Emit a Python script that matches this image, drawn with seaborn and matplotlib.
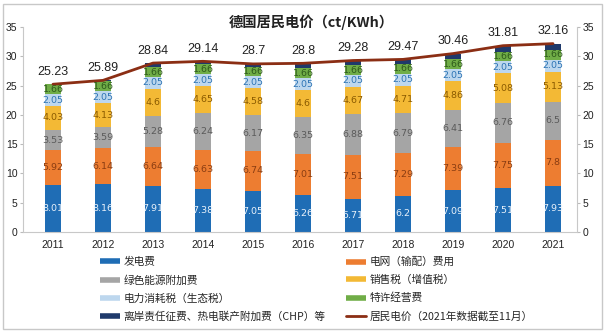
import numpy as np
import pandas as pd
import matplotlib
matplotlib.use("Agg")
import matplotlib.pyplot as plt
from matplotlib.lines import Line2D
from matplotlib.patches import Rectangle
import seaborn as sns

sns.set_theme(style="white")
plt.rcParams['font.family'] = ['Noto Sans CJK SC', 'DejaVu Sans']

years = ["2011", "2012", "2013", "2014", "2015", "2016", "2017", "2018", "2019", "2020", "2021"]
generation = [8.01, 8.16, 7.91, 7.38, 7.05, 6.26, 5.71, 6.2, 7.09, 7.51, 7.93]
grid_fee = [5.92, 6.14, 6.64, 6.63, 6.74, 7.01, 7.51, 7.29, 7.39, 7.75, 7.8]
green_levy = [3.53, 3.59, 5.28, 6.24, 6.17, 6.35, 6.88, 6.79, 6.41, 6.76, 6.5]
sales_tax = [4.03, 4.13, 4.6, 4.65, 4.58, 4.6, 4.67, 4.71, 4.86, 5.08, 5.13]
eco_tax = [2.05, 2.05, 2.05, 2.05, 2.05, 2.05, 2.05, 2.05, 2.05, 2.05, 2.05]
concession = [1.66, 1.66, 1.66, 1.66, 1.66, 1.66, 1.66, 1.66, 1.66, 1.66, 1.66]
other_levies = [0.03, 0.16, 0.70, 0.53, 0.45, 0.87, 0.80, 0.77, 1.00, 1.00, 1.09]
total_price = [25.23, 25.89, 28.84, 29.14, 28.7, 28.8, 29.28, 29.47, 30.46, 31.81, 32.16]

series_names = ["发电费", "电网（输配）费用", "绿色能源附加费", "销售税（增值税）",
                "电力消耗税（生态税）", "特许经营费", "离岸责任征费、热电联产附加费（CHP）等"]
line_name = "居民电价（2021年数据截至11月）"
title = "德国居民电价（ct/KWh）"

series = [generation, grid_fee, green_levy, sales_tax, eco_tax, concession, other_levies]
colors = ["#1F6DB5", "#ED7D31", "#A5A5A5", "#F3B935", "#BDD7EE", "#70AD47", "#1F3A6B"]
label_colors = ["#E8F1FA", "#8A3D12", "#5A5A5A", "#8A5A00", "#2E75B6", "#2E5A1C", None]
line_color = "#8B2E14"

fig = plt.figure(figsize=(6.05, 3.32), dpi=100)
ax = fig.add_axes([23/605, 100/332, (577-23)/605, (232-27)/332])

cum = np.cumsum(np.array(series, dtype=float), axis=0)
bottoms = np.vstack([np.zeros(len(years)), cum[:-1]])

# draw cumulative bars from top layer downward
for i in range(len(series) - 1, -1, -1):
    df = pd.DataFrame({"year": years, "h": cum[i]})
    sns.barplot(data=df, x="year", y="h", color=colors[i], saturation=1,
                width=0.31, ax=ax, errorbar=None, edgecolor="none", linewidth=0)

# segment labels
for i, vals in enumerate(series):
    if label_colors[i] is None:
        continue
    for j, v in enumerate(vals):
        ax.text(j, bottoms[i][j] + v / 2, f"{v:g}", ha="center", va="center",
                fontsize=6.8, color=label_colors[i], family=['Liberation Sans Narrow', 'DejaVu Sans'])

xs = np.arange(len(years))
sns.lineplot(x=xs, y=total_price, ax=ax, color=line_color, linewidth=2, sort=False)
for j, v in enumerate(total_price):
    ax.annotate(f"{v:g}", (j, v), xytext=(0, 9), textcoords="offset points",
                ha="center", va="center", fontsize=9, color="#222222",
                family=['Liberation Sans', 'DejaVu Sans'])

ax.set_xlim(-0.6, 10.48)
ax.set_ylim(0, 35)
ax.set_yticks(range(0, 36, 5))
ax.set_xlabel("")
ax.set_ylabel("")
ax.set_xticks(xs)
ax.set_xticklabels(years)
ax.tick_params(axis="x", length=0, labelsize=7.5, pad=6, colors="#222222")
ax.tick_params(axis="y", left=True, right=True, labelleft=True, labelright=True,
               length=2.5, width=0.8, color="#BBBBBB", labelsize=7.5, labelcolor="#222222", pad=1.5)
for lab in ax.get_xticklabels() + ax.get_yticklabels():
    lab.set_family(['Liberation Sans', 'DejaVu Sans'])
for t in ax.yaxis.get_major_ticks():
    t.label2.set_family(['Liberation Sans', 'DejaVu Sans'])
for s in ["left", "right", "bottom"]:
    ax.spines[s].set_visible(True)
    ax.spines[s].set_color("#C8C8C8")
    ax.spines[s].set_linewidth(0.8)
ax.spines["top"].set_visible(False)
ax.grid(False)

fig.text(311/605, 1 - 22/332, title, ha="center", va="center", fontsize=10.3, fontweight="bold", color="#222222")

# legend
h = [Line2D([], [], color=c, lw=4, solid_capstyle="butt") for c in colors]
hl = Line2D([], [], color=line_color, lw=2)
col1_h = [h[0], h[2], h[4], h[6]]
col1_l = [series_names[0], series_names[2], series_names[4], series_names[6]]
col2_h = [h[1], h[3], h[5], hl]
col2_l = [series_names[1], series_names[3], series_names[5], line_name]
leg_kw = dict(frameon=False, fontsize=7.7, handlelength=1.9, handletextpad=0.3,
              labelspacing=0.72, borderaxespad=0, borderpad=0)
leg1 = fig.legend(col1_h, col1_l, loc="upper left", bbox_to_anchor=(100/605, 1 - 257/332), **leg_kw)
leg2 = fig.legend(col2_h, col2_l, loc="upper left", bbox_to_anchor=(346/605, 1 - 257/332), **leg_kw)

fig.patches.append(Rectangle((3/605, 3/332), 599/605, 325/332, transform=fig.transFigure,
                             fill=False, edgecolor="#C8C8C8", linewidth=1))

fig.savefig("out.png", dpi=100)
